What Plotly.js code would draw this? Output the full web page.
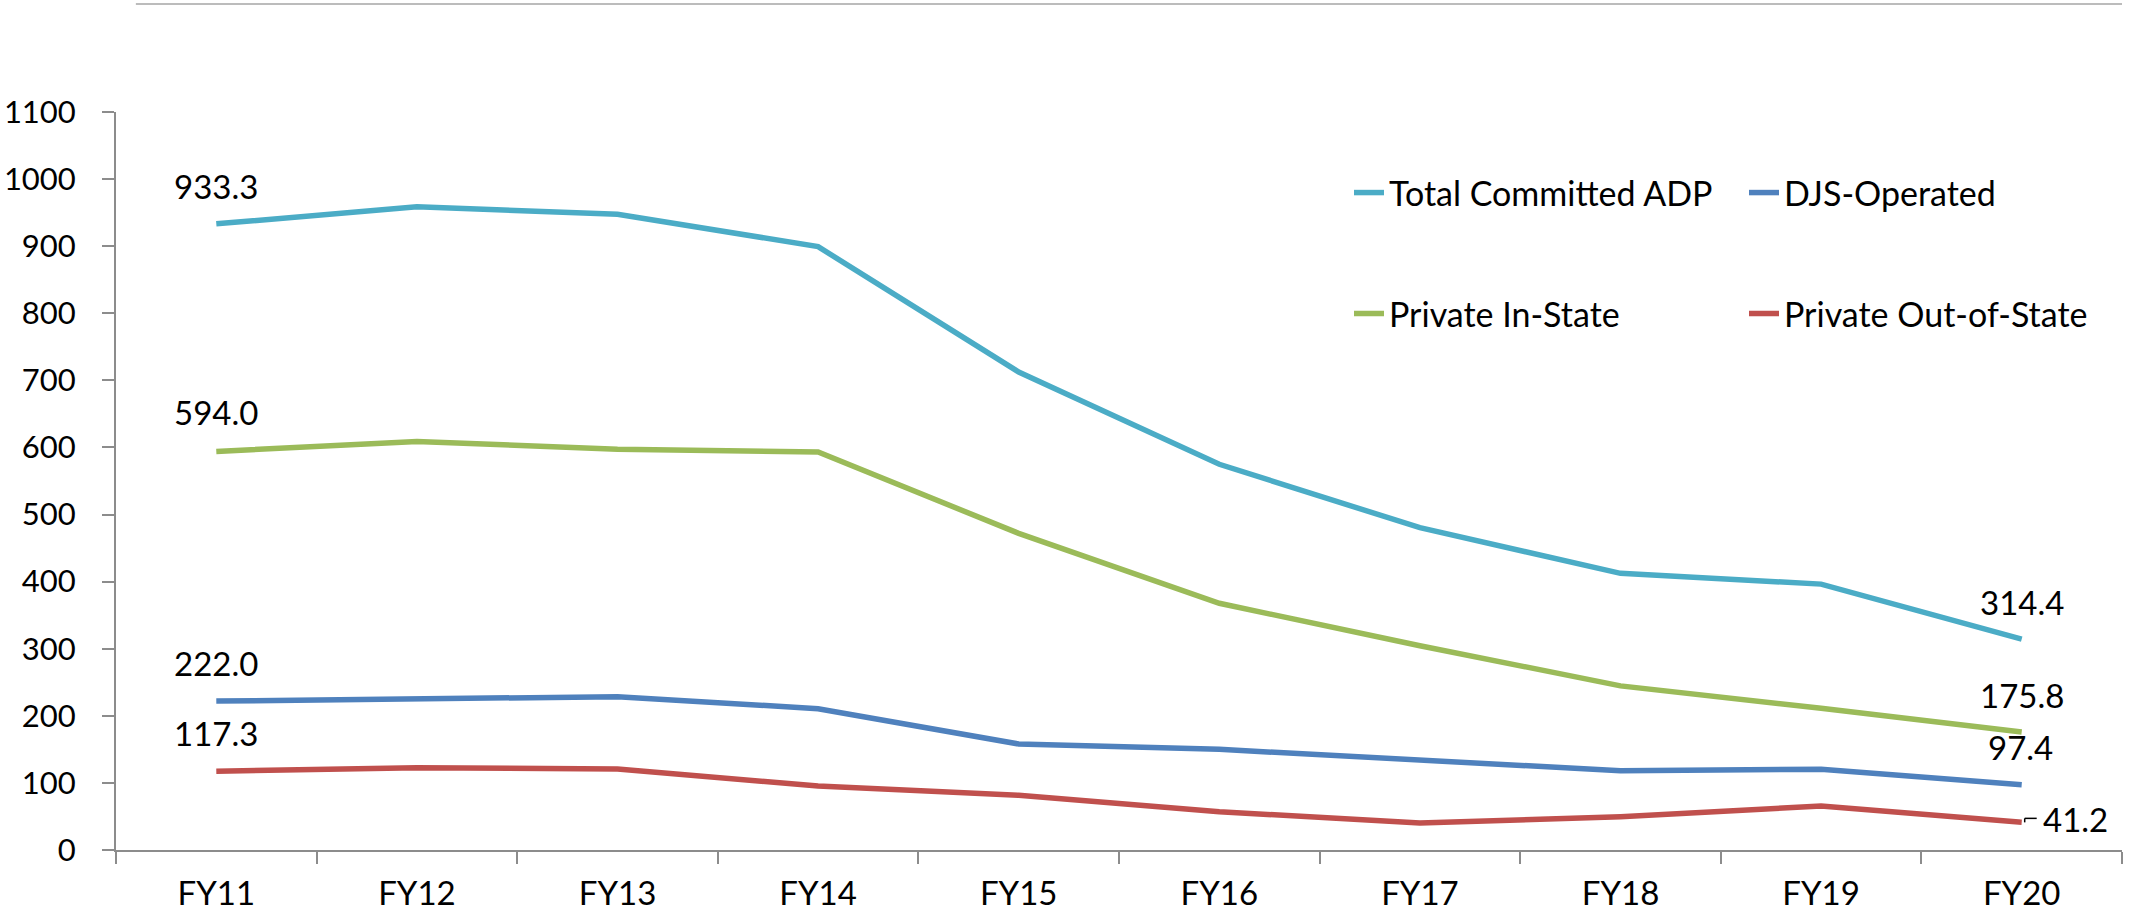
<!DOCTYPE html>
<html>
<head>
<meta charset="utf-8">
<script src="https://cdn.plot.ly/plotly-3.0.1.min.js"></script>
<style>html,body{margin:0;padding:0;background:#fff;}#chart{width:2139px;height:917px;}</style>
</head>
<body>
<div id="chart"></div>
<script>
// ---- data ----
var categories = ["FY11","FY12","FY13","FY14","FY15","FY16","FY17","FY18","FY19","FY20"];
var totalCommitted = [933.3, 958.7, 947.7, 899.3, 712.5, 574.9, 480.4, 412.4, 396.3, 314.4];
var djsOperated    = [222.0, 225.5, 228.5, 210.6, 158.0, 150.0, 134.1, 118.2, 120.3, 97.4];
var privateInState = [594.0, 609.0, 597.4, 593.2, 472.0, 367.7, 304.5, 244.6, 211.2, 175.8];
var privateOutState= [117.3, 122.7, 120.7, 95.4, 81.5, 57.1, 40.2, 49.6, 65.6, 41.2];
var seriesNames = ["Total Committed ADP", "DJS-Operated", "Private In-State", "Private Out-of-State"];
var yTickVals = [0,100,200,300,400,500,600,700,800,900,1000,1100];

// ---- style ----
var FONT = "Lato, 'Open Sans', sans-serif";
var FS = 33;
var LEGFS = 34;
var TICKFS = 31;
var colors = ["#4BACC6", "#4F81BD", "#9BBB59", "#C0504D"];
var axisColor = "#8C8C8C";

function lineTrace(name, y, color, legendId) {
  return {
    type: "scatter", mode: "lines", name: name,
    x: categories, y: y,
    line: {color: color, width: 5.5, shape: "linear"},
    legend: legendId, hoverinfo: "x+y+name"
  };
}

var traces = [
  lineTrace(seriesNames[0], totalCommitted, colors[0], "legend"),
  lineTrace(seriesNames[1], djsOperated, colors[1], "legend"),
  lineTrace(seriesNames[2], privateInState, colors[2], "legend2"),
  lineTrace(seriesNames[3], privateOutState, colors[3], "legend2")
];

// data labels: first and last points of each series
var labelFont = {family: FONT, size: FS, color: "#000"};
var annotations = [];
function addLabel(idx, arr, xs, ys) {
  annotations.push({
    x: categories[idx], y: arr[idx], xref: "x", yref: "y",
    text: arr[idx].toFixed(1), showarrow: false,
    xshift: xs, yshift: ys, font: labelFont
  });
}
addLabel(0, totalCommitted, 0, 38);
addLabel(0, privateInState, 0, 39);
addLabel(0, djsOperated, 0, 38);
addLabel(0, privateOutState, 0, 38);
addLabel(9, totalCommitted, 0, 37);
addLabel(9, privateInState, 0, 37);
addLabel(9, djsOperated, -1, 38);
addLabel(9, privateOutState, 54, 3);

var shapes = [
  // thin rule at the top of the picture
  {type: "line", xref: "paper", yref: "paper", x0: 0.0099, x1: 1, y0: 1.1463, y1: 1.1463,
   line: {color: "#A6A6A6", width: 1.5}},
  // leader line for the 41.2 label
  {type: "line", xref: "x", yref: "y", xsizemode: "pixel", ysizemode: "pixel",
   xanchor: categories[9], yanchor: privateOutState[9], x0: 3, x1: 15, y0: 4, y1: 4,
   line: {color: "#000", width: 1.5}},
  {type: "line", xref: "x", yref: "y", xsizemode: "pixel", ysizemode: "pixel",
   xanchor: categories[9], yanchor: privateOutState[9], x0: 3, x1: 3, y0: 4, y1: 0,
   line: {color: "#000", width: 1.5}}
];

var legendCommon = {
  orientation: "h", xanchor: "left", yanchor: "middle",
  font: {family: FONT, size: LEGFS, color: "#000"},
  bgcolor: "rgba(0,0,0,0)", entrywidth: 350, entrywidthmode: "pixels",
  itemwidth: 30, traceorder: "normal", itemclick: false, itemdoubleclick: false
};

var layout = {
  width: 2139, height: 917,
  margin: {l: 116, r: 0, t: 112, b: 67, pad: 0},
  paper_bgcolor: "#fff", plot_bgcolor: "#fff",
  font: {family: FONT, size: FS, color: "#000"},
  showlegend: true,
  legend: Object.assign({}, legendCommon, {x: 0.6148, y: 0.8903}),
  legend2: Object.assign({}, legendCommon, {x: 0.6148, y: 0.7265}),
  xaxis: {
    type: "category", range: [-0.5, 9.5],
    showline: true, linecolor: axisColor, linewidth: 2,
    ticks: "outside", tickson: "boundaries", ticklen: 12, tickwidth: 2, tickcolor: axisColor,
    showgrid: false, zeroline: false,
    tickfont: {family: FONT, size: FS, color: "#000"},
    ticklabelstandoff: 13, fixedrange: true
  },
  yaxis: {
    range: [0, 1100], tickmode: "array", tickvals: yTickVals, ticktext: yTickVals.map(String),
    showline: true, linecolor: axisColor, linewidth: 2,
    ticks: "outside", ticklen: 12, tickwidth: 2, tickcolor: axisColor,
    showgrid: false, zeroline: false,
    tickfont: {family: FONT, size: TICKFS, color: "#000"},
    ticklabelstandoff: 20, fixedrange: true
  },
  annotations: annotations,
  shapes: shapes
};

Plotly.newPlot("chart", traces, layout, {displayModeBar: false, staticPlot: false, responsive: false});
</script>
</body>
</html>
